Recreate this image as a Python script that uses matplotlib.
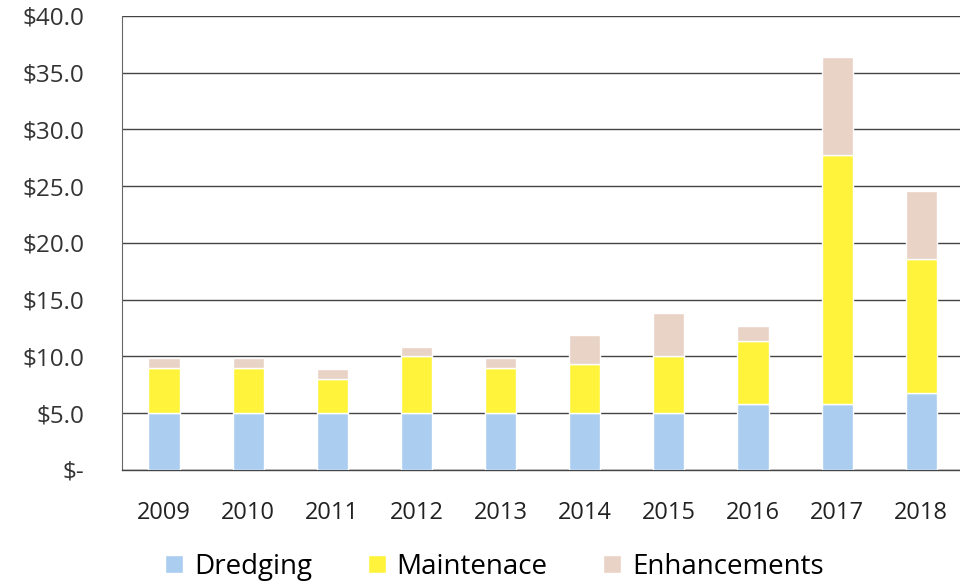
import matplotlib
matplotlib.use("Agg")
import matplotlib.pyplot as plt
import numpy as np

# ── Data (millions $) ──────────────────────────────────────────────
years = ["2009", "2010", "2011", "2012", "2013",
         "2014", "2015", "2016", "2017", "2018"]
dredging     = [5.0, 5.0, 5.0, 5.0, 5.0, 5.0, 5.0, 5.8, 5.8, 6.8]
maintenance  = [4.0, 4.0, 3.0, 5.0, 4.0, 4.3, 5.0, 5.6, 21.9, 11.8]
enhancements = [0.9, 0.9, 0.9, 0.8, 0.9, 2.6, 3.8, 1.3, 8.7, 6.0]

yticks = [0, 5, 10, 15, 20, 25, 30, 35, 40]
ytick_labels = ["$-", "$5.0", "$10.0", "$15.0", "$20.0",
                "$25.0", "$30.0", "$35.0", "$40.0"]

plt.rcParams["font.family"] = ["Open Sans", "DejaVu Sans"]

fig = plt.figure(figsize=(9.6, 5.86), dpi=100)
ax = fig.add_axes([0.127, 0.198, 0.873, 0.775])

x = np.arange(len(years))
w = 0.37
d = np.array(dredging)
m = np.array(maintenance)
e = np.array(enhancements)

ax.bar(x, d, w, color="#aacdf0", edgecolor="white", linewidth=1,
       label="Dredging", zorder=3)
ax.bar(x, m, w, bottom=d, color="#fff33b", edgecolor="white", linewidth=1,
       label="Maintenace", zorder=3)
ax.bar(x, e, w, bottom=d + m, color="#e9d3c6", edgecolor="white",
       linewidth=1, label="Enhancements", zorder=3)

ax.set_ylim(0, 40)
ax.set_xlim(-0.5, 9.46)
ax.set_yticks(yticks)
ax.set_yticklabels(ytick_labels, fontsize=17.5, color="#333333")
ax.set_xticks(x)
ax.set_xticklabels(years, fontsize=17, color="#222222")
ax.tick_params(axis="y", length=0, pad=27)
ax.tick_params(axis="x", length=0, pad=22)

ax.grid(axis="y", color="#444444", linewidth=1.0, zorder=0)
for side in ["top", "right"]:
    ax.spines[side].set_visible(False)
ax.spines["left"].set_color("#666666")
ax.spines["left"].set_linewidth(0.8)
ax.spines["bottom"].set_color("#444444")
ax.spines["bottom"].set_linewidth(1.0)

handles, labels = ax.get_legend_handles_labels()
fig.legend(handles, labels, loc="center", bbox_to_anchor=(0.515, 0.033),
           ncol=3, frameon=False, fontsize=20, handlelength=0.65,
           handleheight=0.65, handletextpad=0.4, columnspacing=2.0,
           borderpad=0)

fig.savefig("out.png", dpi=100)
